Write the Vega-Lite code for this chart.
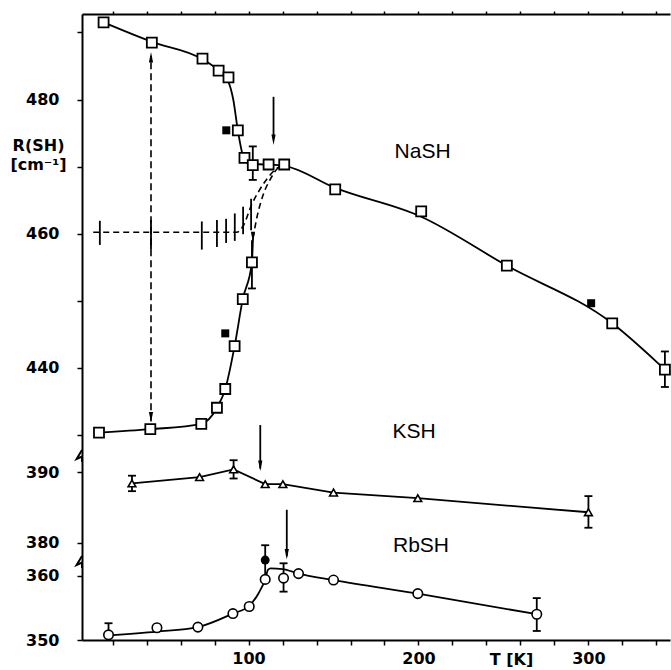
{
  "$schema": "https://vega.github.io/schema/vega-lite/v6.json",
  "padding": {"left": 9, "top": 10, "right": 0, "bottom": 4},
  "background": "white",
  "spacing": 0,
  "bounds": "flush",
  "config": {
    "view": {"stroke": null},
    "axis": {"domainColor": "black", "domainWidth": 2, "tickColor": "black", "tickWidth": 1.5, "labelFont": "DejaVu Sans", "labelFontWeight": "bold", "labelFontSize": 16, "labelColor": "black", "grid": false, "titleFont": "DejaVu Sans", "titleColor": "black"}
  },
  "datasets": {
    "na": [
      {"kind": "up", "T": 14.7, "R": 491.5}, {"kind": "up", "T": 43.1, "R": 488.6}, {"kind": "up", "T": 72.9, "R": 486.0}, {"kind": "up", "T": 82.4, "R": 484.3}, {"kind": "up", "T": 88.2, "R": 482.6}, {"kind": "up", "T": 91.0, "R": 480.0}, {"kind": "up", "T": 93.7, "R": 475.4}, {"kind": "up", "T": 96.5, "R": 471.8}, {"kind": "up", "T": 100.0, "R": 470.4}, {"kind": "up", "T": 110.0, "R": 470.3}, {"kind": "up", "T": 121.0, "R": 470.1}, {"kind": "up", "T": 151.0, "R": 466.8}, {"kind": "up", "T": 201.6, "R": 462.5}, {"kind": "up", "T": 252.0, "R": 455.2}, {"kind": "up", "T": 314.0, "R": 446.6}, {"kind": "up", "T": 345.0, "R": 439.7}, {"kind": "up", "T": 348.0, "R": 439.0},
      {"kind": "lo", "T": 12.0, "R": 430.3}, {"kind": "lo", "T": 42.2, "R": 430.8}, {"kind": "lo", "T": 72.2, "R": 431.6}, {"kind": "lo", "T": 81.4, "R": 434.0}, {"kind": "lo", "T": 86.3, "R": 436.8}, {"kind": "lo", "T": 91.8, "R": 443.2}, {"kind": "lo", "T": 96.6, "R": 450.2}, {"kind": "lo", "T": 102.0, "R": 455.7}, {"kind": "lo", "T": 102.6, "R": 459.3},
      {"kind": "dA", "T": 8.6, "R": 460.2}, {"kind": "dA", "T": 93.0, "R": 460.2}, {"kind": "dA", "T": 97.0, "R": 461.2}, {"kind": "dA", "T": 101.8, "R": 464.3}, {"kind": "dA", "T": 106.0, "R": 466.3}, {"kind": "dA", "T": 111.0, "R": 468.2}, {"kind": "dA", "T": 116.0, "R": 469.6}, {"kind": "dA", "T": 121.0, "R": 470.3},
      {"kind": "dB", "T": 102.6, "R": 459.3}, {"kind": "dB", "T": 105.0, "R": 462.5}, {"kind": "dB", "T": 108.5, "R": 465.7}, {"kind": "dB", "T": 113.0, "R": 468.2}, {"kind": "dB", "T": 117.0, "R": 469.7}, {"kind": "dB", "T": 121.0, "R": 470.3},
      {"kind": "sq", "T": 14.7, "R": 491.5}, {"kind": "sq", "T": 43.1, "R": 488.5}, {"kind": "sq", "T": 72.9, "R": 486.1}, {"kind": "sq", "T": 82.4, "R": 484.3}, {"kind": "sq", "T": 88.2, "R": 483.3}, {"kind": "sq", "T": 93.7, "R": 475.4}, {"kind": "sq", "T": 97.6, "R": 471.3}, {"kind": "sq", "T": 102.5, "R": 470.2}, {"kind": "sq", "T": 111.8, "R": 470.3}, {"kind": "sq", "T": 121.0, "R": 470.3}, {"kind": "sq", "T": 151.0, "R": 466.6}, {"kind": "sq", "T": 201.6, "R": 463.3}, {"kind": "sq", "T": 252.0, "R": 455.2}, {"kind": "sq", "T": 314.0, "R": 446.6}, {"kind": "sq", "T": 345.0, "R": 439.7},
      {"kind": "sq", "T": 12.0, "R": 430.3}, {"kind": "sq", "T": 42.2, "R": 430.8}, {"kind": "sq", "T": 72.2, "R": 431.6}, {"kind": "sq", "T": 81.4, "R": 434.0}, {"kind": "sq", "T": 86.3, "R": 436.8}, {"kind": "sq", "T": 91.8, "R": 443.2}, {"kind": "sq", "T": 96.6, "R": 450.2}, {"kind": "sq", "T": 102.0, "R": 455.7},
      {"kind": "fsq", "T": 86.9, "R": 475.4}, {"kind": "fsq", "T": 86.3, "R": 445.1}, {"kind": "fsq", "T": 301.6, "R": 449.6},
      {"kind": "err", "T": 102.5, "R": 468.0, "R2": 473.0}, {"kind": "err", "T": 345.0, "R": 437.1, "R2": 442.4}, {"kind": "err", "T": 102.0, "R": 451.8, "R2": 459.0},
      {"kind": "cap", "T": 102.5, "R": 468.0}, {"kind": "cap", "T": 102.5, "R": 473.0}, {"kind": "cap", "T": 345.0, "R": 437.1}, {"kind": "cap", "T": 345.0, "R": 442.4}, {"kind": "cap", "T": 102.0, "R": 451.8},
      {"kind": "err", "T": 12.5, "R": 458.3, "R2": 461.9}, {"kind": "err", "T": 42.6, "R": 457.6, "R2": 462.0}, {"kind": "err", "T": 72.5, "R": 457.6, "R2": 461.8}, {"kind": "err", "T": 81.4, "R": 458.0, "R2": 462.0}, {"kind": "err", "T": 86.8, "R": 458.6, "R2": 462.2}, {"kind": "err", "T": 91.9, "R": 458.9, "R2": 463.0}, {"kind": "err", "T": 96.8, "R": 459.9, "R2": 464.0}, {"kind": "err", "T": 101.5, "R": 460.5, "R2": 465.2},
      {"kind": "arr", "T": 114.7, "R": 474.5, "R2": 480.4},
      {"kind": "dv", "T": 42.6, "R": 432.0, "R2": 486.5},
      {"kind": "hd", "T": 114.7, "R": 474.0}, {"kind": "hd", "T": 42.6, "R": 432.6}, {"kind": "hd", "T": 102.6, "R": 459.5},
      {"kind": "hu", "T": 42.6, "R": 486.3},
      {"kind": "txt", "T": 202.4, "R": 472.2, "label": "NaSH"}, {"kind": "txt", "T": 197.4, "R": 430.4, "label": "KSH"}
    ],
    "k": [
      {"kind": "line", "T": 31.4, "R": 388.4}, {"kind": "line", "T": 71.2, "R": 389.3}, {"kind": "line", "T": 91.2, "R": 390.4}, {"kind": "line", "T": 109.8, "R": 388.3}, {"kind": "line", "T": 120.2, "R": 388.3}, {"kind": "line", "T": 150.0, "R": 387.1}, {"kind": "line", "T": 199.6, "R": 386.3}, {"kind": "line", "T": 300.0, "R": 384.3},
      {"kind": "tri", "T": 31.4, "R": 388.4}, {"kind": "tri", "T": 71.2, "R": 389.3}, {"kind": "tri", "T": 91.2, "R": 390.4}, {"kind": "tri", "T": 109.8, "R": 388.3}, {"kind": "tri", "T": 120.2, "R": 388.3}, {"kind": "tri", "T": 150.0, "R": 387.1}, {"kind": "tri", "T": 199.6, "R": 386.3}, {"kind": "tri", "T": 300.0, "R": 384.3},
      {"kind": "err", "T": 31.4, "R": 387.3, "R2": 389.5}, {"kind": "err", "T": 91.2, "R": 389.1, "R2": 391.7}, {"kind": "err", "T": 300.0, "R": 382.1, "R2": 386.6},
      {"kind": "cap", "T": 31.4, "R": 387.3}, {"kind": "cap", "T": 31.4, "R": 389.5}, {"kind": "cap", "T": 91.2, "R": 389.1}, {"kind": "cap", "T": 91.2, "R": 391.7}, {"kind": "cap", "T": 300.0, "R": 382.1}, {"kind": "cap", "T": 300.0, "R": 386.6},
      {"kind": "arr", "T": 106.9, "R": 390.5, "R2": 396.7},
      {"kind": "hd", "T": 106.9, "R": 390.9},
      {"kind": "zz", "T": 2, "R": 392.3},
      {"kind": "txt", "T": 201.5, "R": 379.5, "label": "RbSH"}
    ],
    "rb": [
      {"kind": "line", "T": 17.6, "R": 350.7}, {"kind": "line", "T": 46.0, "R": 351.3}, {"kind": "line", "T": 70.2, "R": 352.0}, {"kind": "line", "T": 90.8, "R": 354.1}, {"kind": "line", "T": 100.4, "R": 355.3}, {"kind": "line", "T": 106.0, "R": 357.3}, {"kind": "line", "T": 109.8, "R": 359.4}, {"kind": "line", "T": 111.5, "R": 360.9}, {"kind": "line", "T": 113.0, "R": 361.1}, {"kind": "line", "T": 120.0, "R": 361.0}, {"kind": "line", "T": 129.4, "R": 360.3}, {"kind": "line", "T": 150.0, "R": 359.3}, {"kind": "line", "T": 199.6, "R": 357.2}, {"kind": "line", "T": 269.6, "R": 354.0},
      {"kind": "circ", "T": 17.6, "R": 350.8}, {"kind": "circ", "T": 46.1, "R": 351.9}, {"kind": "circ", "T": 70.2, "R": 352.0}, {"kind": "circ", "T": 90.8, "R": 354.1}, {"kind": "circ", "T": 100.4, "R": 355.2}, {"kind": "circ", "T": 109.8, "R": 359.4}, {"kind": "circ", "T": 120.6, "R": 359.6}, {"kind": "circ", "T": 129.4, "R": 360.3}, {"kind": "circ", "T": 150.0, "R": 359.3}, {"kind": "circ", "T": 199.6, "R": 357.2}, {"kind": "circ", "T": 269.6, "R": 354.0},
      {"kind": "fcirc", "T": 109.8, "R": 362.4},
      {"kind": "err", "T": 17.6, "R": 350.8, "R2": 352.6}, {"kind": "err", "T": 109.8, "R": 359.6, "R2": 364.7}, {"kind": "err", "T": 120.6, "R": 357.5, "R2": 361.9}, {"kind": "err", "T": 269.6, "R": 351.4, "R2": 356.5},
      {"kind": "cap", "T": 17.6, "R": 352.6}, {"kind": "cap", "T": 109.8, "R": 364.7}, {"kind": "cap", "T": 120.6, "R": 357.5}, {"kind": "cap", "T": 120.6, "R": 361.9}, {"kind": "cap", "T": 269.6, "R": 351.4}, {"kind": "cap", "T": 269.6, "R": 356.5},
      {"kind": "arr", "T": 122.5, "R": 363.0, "R2": 370.2},
      {"kind": "hd", "T": 122.5, "R": 363.3},
      {"kind": "zz", "T": 2, "R": 362.1},
      {"kind": "txt", "T": 254.7, "R": 350, "label": "T [K]"}
    ]
  },
  "vconcat": [
    {
      "width": 588,
      "height": 442,
      "data": {"name": "na"},
      "encoding": {
        "x": {"field": "T", "type": "quantitative", "scale": {"domain": [2, 348], "nice": false, "zero": false},
              "axis": {"orient": "top", "values": [20,40,60,80,100,120,140,160,180,200,220,240,260,280,300,320,340], "labels": false, "tickSize": 3, "title": null}},
        "y": {"field": "R", "type": "quantitative", "scale": {"domain": [426.8, 492.76], "nice": false, "zero": false},
              "axis": {"values": [430,440,450,460,470,480,490], "labelExpr": "datum.value % 20 == 0 ? datum.label : ''", "tickSize": 5, "labelPadding": 18,
                       "title": ["R(SH)", "[cm⁻¹]"], "titleAngle": 0, "titleAlign": "center", "titleBaseline": "alphabetic", "titleX": -44, "titleY": 136, "titleFontSize": 16, "titleFontWeight": "bold", "titleLineHeight": 19}}
      },
      "layer": [
        {"transform": [{"filter": "datum.kind == 'dA' || datum.kind == 'dB'"}], "mark": {"type": "line", "interpolate": "monotone", "color": "black", "strokeWidth": 1.6, "strokeDash": [6, 4]}, "encoding": {"detail": {"field": "kind"}}},
        {"transform": [{"filter": "datum.kind == 'up' || datum.kind == 'lo'"}], "mark": {"type": "line", "interpolate": "monotone", "color": "black", "strokeWidth": 1.8}, "encoding": {"detail": {"field": "kind"}}},
        {"transform": [{"filter": "datum.kind == 'dv'"}], "mark": {"type": "rule", "color": "black", "strokeWidth": 1.6, "strokeDash": [7, 4]}, "encoding": {"y2": {"field": "R2"}}},
        {"transform": [{"filter": "datum.kind == 'err' || datum.kind == 'arr'"}], "mark": {"type": "rule", "color": "black", "strokeWidth": 1.8}, "encoding": {"y2": {"field": "R2"}}},
        {"transform": [{"filter": "datum.kind == 'cap'"}], "mark": {"type": "point", "shape": "M-1,0L1,0", "size": 64, "filled": false, "stroke": "black", "strokeWidth": 1.8, "opacity": 1}},
        {"transform": [{"filter": "datum.kind == 'hd'"}], "mark": {"type": "point", "shape": "M0,1L0.4,-1L-0.4,-1Z", "size": 110, "filled": true, "color": "black", "opacity": 1}},
        {"transform": [{"filter": "datum.kind == 'hu'"}], "mark": {"type": "point", "shape": "M0,-1L0.4,1L-0.4,1Z", "size": 110, "filled": true, "color": "black", "opacity": 1}},
        {"transform": [{"filter": "datum.kind == 'sq'"}], "mark": {"type": "point", "shape": "square", "size": 100, "filled": true, "fill": "white", "stroke": "black", "strokeWidth": 1.8, "opacity": 1}},
        {"transform": [{"filter": "datum.kind == 'fsq'"}], "mark": {"type": "point", "shape": "square", "size": 64, "filled": true, "color": "black", "opacity": 1}},
        {"transform": [{"filter": "datum.kind == 'txt'"}], "mark": {"type": "text", "font": "Liberation Sans", "fontSize": 21, "color": "black", "baseline": "middle", "align": "center"}, "encoding": {"text": {"field": "label"}}}
      ]
    },
    {
      "width": 588,
      "height": 106,
      "data": {"name": "k"},
      "encoding": {
        "x": {"field": "T", "type": "quantitative", "scale": {"domain": [2, 348], "nice": false, "zero": false}, "axis": null},
        "y": {"field": "R", "type": "quantitative", "scale": {"domain": [377.23, 392.3], "nice": false, "zero": false},
              "axis": {"values": [380, 390], "tickSize": 5, "labelPadding": 18, "title": null}}
      },
      "layer": [
        {"transform": [{"filter": "datum.kind == 'line'"}], "mark": {"type": "line", "color": "black", "strokeWidth": 1.8}},
        {"transform": [{"filter": "datum.kind == 'err' || datum.kind == 'arr'"}], "mark": {"type": "rule", "color": "black", "strokeWidth": 1.8}, "encoding": {"y2": {"field": "R2"}}},
        {"transform": [{"filter": "datum.kind == 'cap'"}], "mark": {"type": "point", "shape": "M-1,0L1,0", "size": 64, "filled": false, "stroke": "black", "strokeWidth": 1.8, "opacity": 1}},
        {"transform": [{"filter": "datum.kind == 'hd'"}], "mark": {"type": "point", "shape": "M0,1L0.4,-1L-0.4,-1Z", "size": 110, "filled": true, "color": "black", "opacity": 1}},
        {"transform": [{"filter": "datum.kind == 'zz'"}], "mark": {"type": "point", "shape": "M0,-1L-0.9,0.5L0,0.1L0,1", "size": 144, "filled": false, "stroke": "black", "strokeWidth": 2, "opacity": 1}},
        {"transform": [{"filter": "datum.kind == 'tri'"}], "mark": {"type": "point", "shape": "triangle-up", "size": 60, "filled": true, "fill": "white", "stroke": "black", "strokeWidth": 1.6, "opacity": 1}},
        {"transform": [{"filter": "datum.kind == 'txt'"}], "mark": {"type": "text", "font": "Liberation Sans", "fontSize": 21, "color": "black", "baseline": "middle", "align": "center"}, "encoding": {"text": {"field": "label"}}}
      ]
    },
    {
      "width": 588,
      "height": 78,
      "data": {"name": "rb"},
      "encoding": {
        "x": {"field": "T", "type": "quantitative", "scale": {"domain": [2, 348], "nice": false, "zero": false},
              "axis": {"orient": "bottom", "values": [20,40,60,80,100,120,140,160,180,200,220,240,260,280,300,320,340], "labelExpr": "datum.value % 100 == 0 ? datum.label : ''", "tickSize": 5, "labelPadding": 5, "title": null}},
        "y": {"field": "R", "type": "quantitative", "scale": {"domain": [350, 362.1], "nice": false, "zero": false},
              "axis": {"values": [350, 360], "tickSize": 5, "labelPadding": 18, "title": null}}
      },
      "layer": [
        {"transform": [{"filter": "datum.kind == 'line'"}], "mark": {"type": "line", "interpolate": "monotone", "color": "black", "strokeWidth": 1.8}},
        {"transform": [{"filter": "datum.kind == 'err' || datum.kind == 'arr'"}], "mark": {"type": "rule", "color": "black", "strokeWidth": 1.8}, "encoding": {"y2": {"field": "R2"}}},
        {"transform": [{"filter": "datum.kind == 'cap'"}], "mark": {"type": "point", "shape": "M-1,0L1,0", "size": 64, "filled": false, "stroke": "black", "strokeWidth": 1.8, "opacity": 1}},
        {"transform": [{"filter": "datum.kind == 'hd'"}], "mark": {"type": "point", "shape": "M0,1L0.4,-1L-0.4,-1Z", "size": 110, "filled": true, "color": "black", "opacity": 1}},
        {"transform": [{"filter": "datum.kind == 'zz'"}], "mark": {"type": "point", "shape": "M0,-1L-0.9,0.5L0,0.1L0,1", "size": 144, "filled": false, "stroke": "black", "strokeWidth": 2, "opacity": 1}},
        {"transform": [{"filter": "datum.kind == 'circ'"}], "mark": {"type": "point", "shape": "circle", "size": 90, "filled": true, "fill": "white", "stroke": "black", "strokeWidth": 1.6, "opacity": 1}},
        {"transform": [{"filter": "datum.kind == 'fcirc'"}], "mark": {"type": "point", "shape": "circle", "size": 80, "filled": true, "color": "black", "opacity": 1}},
        {"transform": [{"filter": "datum.kind == 'txt'"}], "mark": {"type": "text", "font": "DejaVu Sans", "fontSize": 16, "fontWeight": "bold", "color": "black", "baseline": "middle", "align": "center", "dy": 20}, "encoding": {"text": {"field": "label"}}}
      ]
    }
  ]
}
